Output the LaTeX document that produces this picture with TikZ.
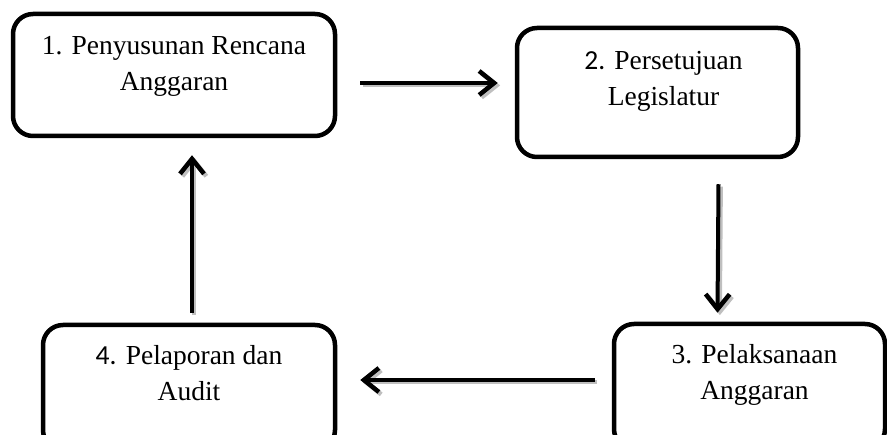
\documentclass[tikz,border=0pt]{standalone}
\usepackage{fontspec}
\setmainfont{Liberation Serif}
\newfontfamily\numfont{Carlito}
\usetikzlibrary{arrows.meta,positioning,calc}

\begin{document}
\begin{tikzpicture}[x=1pt,y=-1pt,
	box/.style={draw,line width=4.5pt,rounded corners=20pt,inner sep=0pt},
	txt/.style={align=center,inner sep=0pt,anchor=base,
		font=\fontsize{27.5}{36}\selectfont},
	flow/.style={line width=4pt,
		-{Straight Barb[length=15pt,width=24pt,line width=4.5pt]}},
	flowshade/.style={flow,draw=gray!50,transform canvas={shift={(2.4pt,-2.4pt)}}}]
	
	\useasboundingbox (0,0) rectangle (887,435);
	\clip (0,0) rectangle (887,435);
	
	% the four stages of the cycle
	\node[box,minimum width=322pt,minimum height=122pt] (b1) at (174,75) {};
	\node[box,minimum width=281pt,minimum height=129pt] (b2) at (657.5,92.5) {};
	\node[box,minimum width=271pt,minimum height=125pt] (b3) at (749.5,386.5) {};
	\node[box,minimum width=292pt,minimum height=125pt] (b4) at (189,387.5) {};
	
	% base of a node = baseline of its last line
	\node[txt] (t1) at ([shift={(0,79)}]b1.north) {1. Penyusunan Rencana\\Anggaran};
	\node[txt] (t2) at ([shift={(6,80)}]b2.north) {{\numfont 2.} Persetujuan\\Legislatur};
	\node[txt] (t3) at ([shift={(5,78)}]b3.north) {3. Pelaksanaan\\Anggaran};
	\node[txt] (t4) at ([shift={(0,78)}]b4.north) {{\numfont 4.} Pelaporan dan\\Audit};
	
	% arrow ends
	\coordinate (a1) at ([shift={(23,8)}]b1.east);
	\coordinate (a2) at ([shift={(-17,-9.5)}]b2.west);
	\coordinate (a3) at ([shift={(61,25)}]b2.south);
	\coordinate (a4) at ([shift={(-32,-9)}]b3.north);
	\coordinate (a5) at ([shift={(-17,-6.5)}]b3.west);
	\coordinate (a6) at ([shift={(23,-7.5)}]b4.east);
	\coordinate (a7) at ([shift={(3,-10)}]b4.north);
	\coordinate (a8) at ([shift={(18,17)}]b1.south);
	
	% arrows with a grey shadow
	\foreach \s/\e in {a1/a2,a3/a4,a5/a6,a7/a8}{
		\draw[flowshade] (\s) -- (\e);
		\draw[flow] (\s) -- (\e);
	}
	
\end{tikzpicture}
\end{document}
